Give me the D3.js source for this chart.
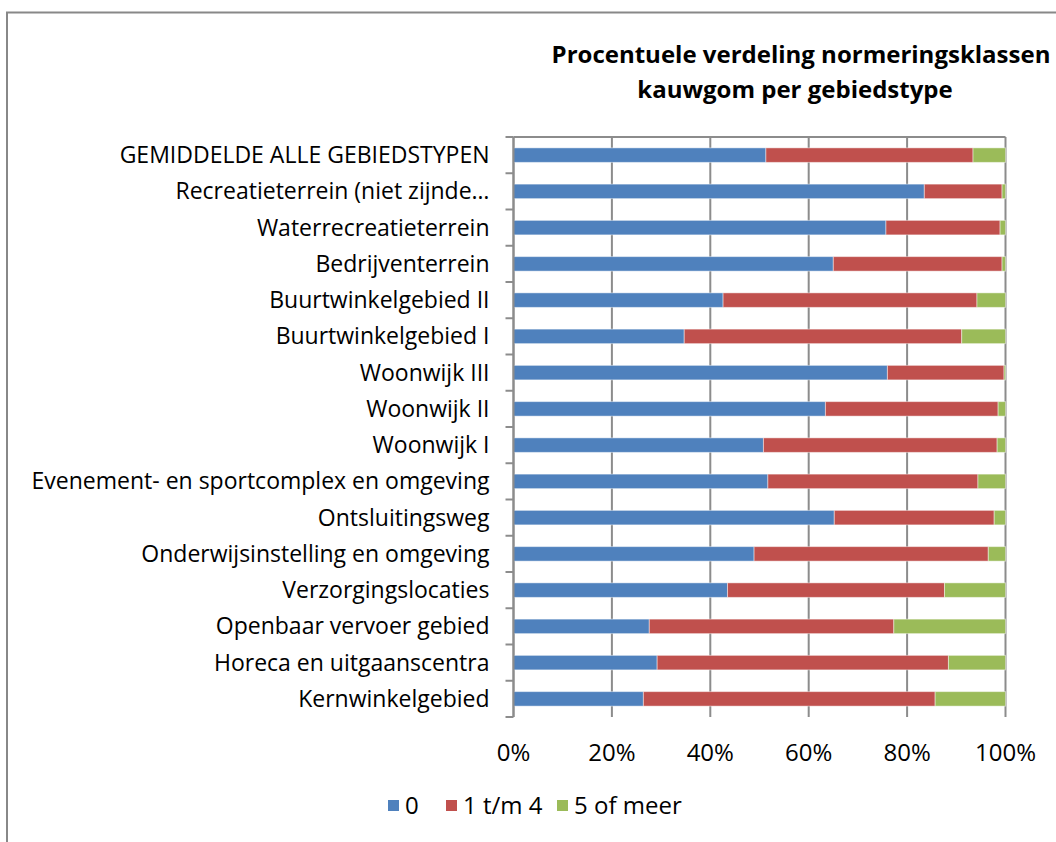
<!DOCTYPE html>
<html>
<head>
<meta charset="utf-8">
<script src="https://cdn.jsdelivr.net/npm/d3@7"></script>
<style>
  body { margin: 0; background: #fff; }
  svg { display: block; }
  text { font-family: "Open Sans", sans-serif; fill: #000; }
</style>
</head>
<body>
<div id="chart"></div>
<script>
// categories, top to bottom
var categories = [
  "GEMIDDELDE ALLE GEBIEDSTYPEN",
  "Recreatieterrein (niet zijnde\u2026",
  "Waterrecreatieterrein",
  "Bedrijventerrein",
  "Buurtwinkelgebied II",
  "Buurtwinkelgebied I",
  "Woonwijk III",
  "Woonwijk II",
  "Woonwijk I",
  "Evenement- en sportcomplex en omgeving",
  "Ontsluitingsweg",
  "Onderwijsinstelling en omgeving",
  "Verzorgingslocaties",
  "Openbaar vervoer gebied",
  "Horeca en uitgaanscentra",
  "Kernwinkelgebied"
];

// percentages per class
var klasse0   = [51.3, 83.5, 75.7, 65.0, 42.6, 34.7, 76.0, 63.4, 50.8, 51.7, 65.2, 48.9, 43.5, 27.6, 29.2, 26.4];
var klasse1t4 = [42.1, 15.8, 23.2, 34.3, 51.6, 56.4, 23.7, 35.1, 47.5, 42.7, 32.5, 47.6, 44.1, 49.7, 59.2, 59.3];
var klasse5   = [6.6, 0.7, 1.1, 0.7, 5.8, 8.9, 0.3, 1.5, 1.7, 5.6, 2.3, 3.5, 12.4, 22.7, 11.6, 14.3];

var seriesNames = ["0", "1 t/m 4", "5 of meer"];
var seriesColors = ["#4F81BD", "#C0504D", "#9BBB59"];
var xTicks = [0, 20, 40, 60, 80, 100];

var W = 1056, H = 842;
var margin = {top: 137, left: 513.5, right: 50.5, bottom: 125};
var width = W - margin.left - margin.right,
    height = H - margin.top - margin.bottom;

var svg = d3.select("#chart").append("svg")
    .attr("width", W)
    .attr("height", H);

// outer chart border
svg.append("rect")
    .attr("x", 7).attr("y", 12.5)
    .attr("width", W + 20).attr("height", H + 20)
    .attr("fill", "none")
    .attr("stroke", "#888")
    .attr("stroke-width", 2);

// title
var title = svg.append("text")
    .attr("text-anchor", "middle")
    .attr("font-weight", "bold")
    .attr("font-size", 24);
title.append("tspan").attr("x", 801).attr("y", 63).text("Procentuele verdeling normeringsklassen");
title.append("tspan").attr("x", 795).attr("y", 98).text("kauwgom per gebiedstype");

var g = svg.append("g").attr("transform", "translate(" + margin.left + "," + margin.top + ")");

var x = d3.scaleLinear().domain([0, 100]).range([0, width]);
var y = d3.scaleBand().domain(categories).range([0, height]).paddingInner(0.6).paddingOuter(0.3);

var rows = categories.map(function(c, i) {
  return {cat: c, "0": klasse0[i], "1 t/m 4": klasse1t4[i], "5 of meer": klasse5[i]};
});
var stack = d3.stack().keys(seriesNames)(rows);

// gridlines
g.selectAll(".grid").data(xTicks).enter()
  .append("line")
  .attr("class", "grid")
  .attr("x1", function(d) { return x(d); })
  .attr("x2", function(d) { return x(d); })
  .attr("y1", 0)
  .attr("y2", height)
  .attr("stroke", "#8c8c8c")
  .attr("stroke-width", 2);

// top border of plot
g.append("line")
  .attr("x1", 0).attr("x2", width)
  .attr("y1", 0).attr("y2", 0)
  .attr("stroke", "#8c8c8c")
  .attr("stroke-width", 2);

// bars
g.selectAll(".series").data(stack).enter()
  .append("g")
  .attr("class", "series")
  .attr("fill", function(d, i) { return seriesColors[i]; })
  .selectAll("rect").data(function(d) { return d; }).enter()
  .append("rect")
  .attr("x", function(d) { return x(d[0]); })
  .attr("width", function(d) { return x(d[1]) - x(d[0]); })
  .attr("y", function(d) { return y(d.data.cat); })
  .attr("height", y.bandwidth())
  .attr("stroke", "rgba(255,255,255,0.45)")
  .attr("stroke-width", 1);

// category axis
var step = height / categories.length;
g.append("line")
  .attr("x1", 0).attr("x2", 0)
  .attr("y1", 0).attr("y2", height)
  .attr("stroke", "#8c8c8c")
  .attr("stroke-width", 2);
g.selectAll(".ytick").data(d3.range(categories.length + 1)).enter()
  .append("line")
  .attr("class", "ytick")
  .attr("x1", -8).attr("x2", 0)
  .attr("y1", function(d) { return d * step; })
  .attr("y2", function(d) { return d * step; })
  .attr("stroke", "#8c8c8c")
  .attr("stroke-width", 2);

g.selectAll(".ylabel").data(categories).enter()
  .append("text")
  .attr("class", "ylabel")
  .attr("x", -24)
  .attr("y", function(d) { return y(d) + y.bandwidth() / 2; })
  .attr("dy", "0.35em")
  .attr("text-anchor", "end")
  .attr("font-size", 23)
  .text(function(d) { return d; });

// value axis labels
g.selectAll(".xlabel").data(xTicks).enter()
  .append("text")
  .attr("class", "xlabel")
  .attr("x", function(d) { return x(d); })
  .attr("y", height + 44)
  .attr("text-anchor", "middle")
  .attr("font-size", 24)
  .text(function(d) { return d + "%"; });

// legend
var legendX = [388, 446, 557];
var legend = svg.selectAll(".legend").data(seriesNames).enter()
  .append("g")
  .attr("class", "legend")
  .attr("transform", function(d, i) { return "translate(" + legendX[i] + ",800)"; });
legend.append("rect")
  .attr("width", 11).attr("height", 11)
  .attr("fill", function(d, i) { return seriesColors[i]; });
legend.append("text")
  .attr("x", 17)
  .attr("y", 5.5)
  .attr("dy", "0.35em")
  .attr("font-size", 24)
  .text(function(d) { return d; });
</script>
</body>
</html>
